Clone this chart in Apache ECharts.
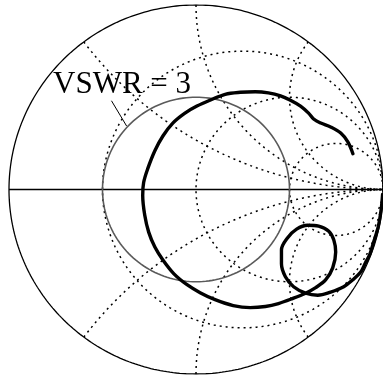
<!DOCTYPE html>
<html>
<head>
<meta charset="utf-8">
<script src="https://cdn.jsdelivr.net/npm/echarts@6/dist/echarts.min.js"></script>
<style>
  html, body { margin: 0; padding: 0; background: #fff; }
  #chart { width: 383px; height: 382px; }
</style>
</head>
<body>
<div id="chart"></div>
<script>
// Smith chart grid: normalised resistance circles and reactance arcs
const resistanceCircles = [1 / 3, 1, 3];
const reactanceArcs = [0.5, 1, 2, -0.5, -1, -2];
const vswr = 3;
const vswrLabel = 'VSWR = 3';

// Measured reflection coefficient locus (real and imaginary parts)
const locusRe = [0.839, 0.812, 0.774, 0.720, 0.667, 0.629, 0.602, 0.559, 0.505, 0.452,
  0.387, 0.317, 0.237, 0.156, 0.075, 0.005, -0.059, -0.124, -0.177, -0.220,
  -0.258, -0.280, -0.285, -0.274, -0.253, -0.220, -0.177, -0.118, -0.048, 0.022,
  0.102, 0.199, 0.290, 0.371, 0.441, 0.516, 0.586, 0.640, 0.694, 0.731,
  0.747, 0.737, 0.710, 0.656, 0.597, 0.538, 0.489, 0.457, 0.457, 0.478,
  0.522, 0.586, 0.651, 0.720, 0.790, 0.839, 0.882, 0.905, 0.930, 0.950,
  0.975, 0.990, 0.998];
const locusIm = [0.194, 0.258, 0.306, 0.339, 0.360, 0.382, 0.414, 0.452, 0.484, 0.508,
  0.524, 0.530, 0.527, 0.516, 0.484, 0.452, 0.414, 0.360, 0.290, 0.210,
  0.113, 0.038, -0.032, -0.140, -0.231, -0.312, -0.382, -0.457, -0.516, -0.559,
  -0.597, -0.629, -0.640, -0.634, -0.618, -0.591, -0.562, -0.532, -0.489, -0.425,
  -0.339, -0.274, -0.226, -0.199, -0.194, -0.215, -0.263, -0.328, -0.403, -0.473,
  -0.527, -0.562, -0.573, -0.556, -0.527, -0.489, -0.446, -0.400, -0.350, -0.285,
  -0.200, -0.110, -0.025];

// Leader from the label to the VSWR circle
const leaderRe = [-0.452, -0.371];
const leaderIm = [0.481, 0.344];

// z -> gamma = (z - 1) / (z + 1)
function gamma(a, b) {
  const d = (a + 1) * (a + 1) + b * b;
  return [(a * a + b * b - 1) / d, 2 * b / d];
}

function resistanceCurve(r) {
  const pts = [];
  const n = 400;
  for (let i = 0; i <= n; i++) {
    const phi = -Math.PI / 2 + Math.PI * i / n;
    const t = Math.abs(Math.cos(phi)) < 1e-9 ? Math.sign(Math.sin(phi)) * 1e9 : Math.tan(phi);
    pts.push(gamma(r, t));
  }
  return pts;
}

function reactanceCurve(x) {
  const pts = [];
  const n = 300;
  for (let i = 0; i <= n; i++) {
    const phi = (Math.PI / 2) * i / n;
    const t = i === n ? 1e9 : Math.tan(phi);
    pts.push(gamma(t, x));
  }
  return pts;
}

function circle(radius) {
  const pts = [];
  const n = 360;
  for (let i = 0; i <= n; i++) {
    const a = 2 * Math.PI * i / n;
    pts.push([radius * Math.cos(a), radius * Math.sin(a)]);
  }
  return pts;
}

const dotted = { color: '#000', width: 1.5, type: [2, 4], cap: 'butt' };

const series = [];
resistanceCircles.forEach(function (r) {
  series.push({ type: 'line', data: resistanceCurve(r), showSymbol: false, lineStyle: dotted, z: 2 });
});
reactanceArcs.forEach(function (x) {
  series.push({ type: 'line', data: reactanceCurve(x), showSymbol: false, lineStyle: dotted, z: 2 });
});
// outer boundary |gamma| = 1 and real axis
series.push({ type: 'line', data: circle(1), showSymbol: false, lineStyle: { color: '#000', width: 1.3 }, z: 3 });
series.push({ type: 'line', data: [[-1, 0], [1, 0]], showSymbol: false, lineStyle: { color: '#000', width: 1.3 }, z: 3 });
// constant VSWR circle
const gammaMag = (vswr - 1) / (vswr + 1);
series.push({ type: 'line', data: circle(gammaMag), showSymbol: false, lineStyle: { color: '#5a5a5a', width: 1.6 }, z: 4 });
// leader line
series.push({ type: 'line', data: leaderRe.map(function (v, i) { return [v, leaderIm[i]]; }), showSymbol: false, lineStyle: { color: '#000', width: 1 }, z: 4 });
// locus
series.push({
  type: 'line',
  data: locusRe.map(function (v, i) { return [v, locusIm[i]]; }),
  showSymbol: false,
  smooth: 0.35,
  lineStyle: { color: '#000', width: 3.4, cap: 'round', join: 'round' },
  z: 5
});

const chart = echarts.init(document.getElementById('chart'), null, { renderer: 'canvas' });
chart.setOption({
  animation: false,
  backgroundColor: '#fff',
  grid: { left: 9, top: 5, width: 374, height: 369 },
  xAxis: { type: 'value', min: -1, max: 1, show: false },
  yAxis: { type: 'value', min: -1, max: 1, show: false },
  series: series,
  graphic: [{
    type: 'text',
    x: 53,
    y: 85,
    z: 10,
    style: {
      text: vswrLabel,
      font: '31px "Liberation Serif", "Times New Roman", serif',
      fill: '#000',
      verticalAlign: 'middle',
      align: 'left'
    }
  }]
});
</script>
</body>
</html>
